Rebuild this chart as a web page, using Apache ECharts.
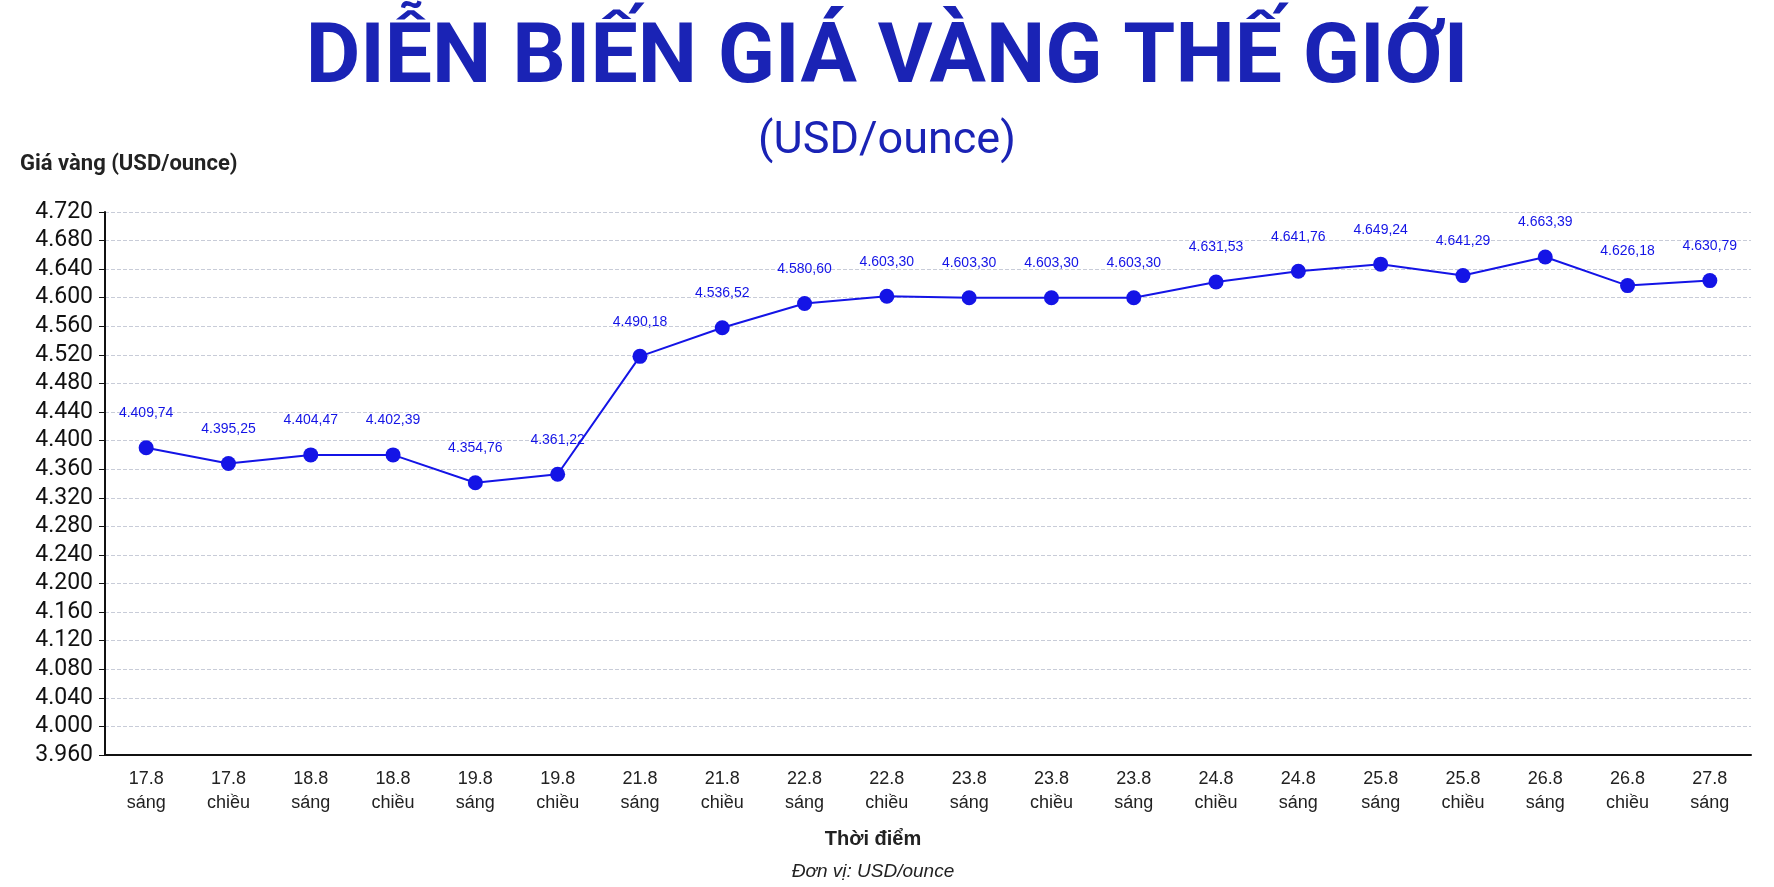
<!DOCTYPE html>
<html><head><meta charset="utf-8">
<script src="https://cdn.jsdelivr.net/npm/echarts@6/dist/echarts.min.js"></script>
<style>html,body{margin:0;background:#fff}#c{width:1774px;height:887px}</style>
</head><body><div id="c"></div>
<script>
const categories = ['17.8\nsáng','17.8\nchiều','18.8\nsáng','18.8\nchiều','19.8\nsáng','19.8\nchiều','21.8\nsáng','21.8\nchiều','22.8\nsáng','22.8\nchiều','23.8\nsáng','23.8\nchiều','23.8\nsáng','24.8\nchiều','24.8\nsáng','25.8\nsáng','25.8\nchiều','26.8\nsáng','26.8\nchiều','27.8\nsáng'];
const plotted = [4390,4368,4380,4380,4341,4353,4518,4558,4592,4602,4600,4600,4600,4622,4637,4647,4631,4657,4617,4624];
const labels = ['4.409,74','4.395,25','4.404,47','4.402,39','4.354,76','4.361,22','4.490,18','4.536,52','4.580,60','4.603,30','4.603,30','4.603,30','4.603,30','4.631,53','4.641,76','4.649,24','4.641,29','4.663,39','4.626,18','4.630,79'];
const chart = echarts.init(document.getElementById('c'));
chart.setOption({
  backgroundColor:'#fff',
  animation:false,
  title:[
    {text:'DIỄN BIẾN GIÁ VÀNG THẾ GIỚI',left:'center',top:14,textStyle:{fontFamily:'Liberation Sans Narrow, Roboto',fontWeight:'bold',fontSize:84,color:'#1a23b5'}},
    {text:'(USD/ounce)',left:882,textAlign:'center',top:114,textStyle:{fontFamily:'Roboto',fontWeight:'normal',fontSize:45,color:'#1a23b5'}},
    {text:'Giá vàng (USD/ounce)',left:15,top:148,textStyle:{fontFamily:'Roboto',fontWeight:'bold',fontSize:22,color:'#222'}},
    {text:'Thời điểm',left:868,textAlign:'center',top:824,textStyle:{fontFamily:'Liberation Sans',fontWeight:'bold',fontSize:20,color:'#222'}},
    {text:'Đơn vị: USD/ounce',left:868,textAlign:'center',top:857,textStyle:{fontFamily:'Liberation Sans',fontStyle:'italic',fontWeight:'normal',fontSize:19,color:'#222'}}
  ],
  grid:{left:105,right:23,top:212,bottom:132},
  xAxis:{type:'category',data:categories,boundaryGap:true,
    axisLine:{lineStyle:{color:'#111',width:2}},axisTick:{alignWithLabel:true,length:5,lineStyle:{color:'#555'}},
    axisLabel:{fontFamily:'Liberation Sans',fontSize:18,color:'#222',lineHeight:24,margin:12}},
  yAxis:{type:'value',min:3960,max:4720,interval:40,
    axisLine:{show:true,lineStyle:{color:'#111',width:2}},axisTick:{show:true,length:6,lineStyle:{color:'#111'}},
    splitLine:{lineStyle:{color:'#c8ccd8',type:'dashed'}},
    axisLabel:{fontFamily:'Roboto',fontSize:23,color:'#111',margin:12,formatter:v=>String(v).replace(/(\d)(\d{3})$/,'$1.$2')}},
  series:[{type:'line',data:plotted,symbol:'circle',symbolSize:15,
    lineStyle:{color:'#1414e6',width:2},itemStyle:{color:'#1414e6'},
    label:{show:true,position:'top',distance:20,fontFamily:'Liberation Sans',fontSize:14,color:'#1414e6',formatter:p=>labels[p.dataIndex]}}]
});
</script></body></html>
